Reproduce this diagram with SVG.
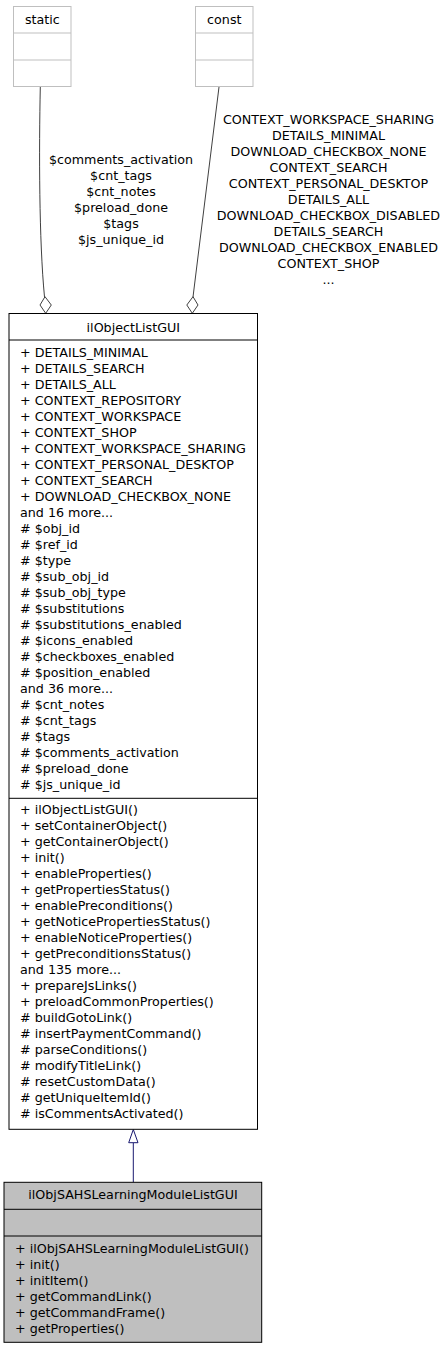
<svg xmlns="http://www.w3.org/2000/svg" width="447" height="1349" viewBox="0 0 447 1349">
<style>
text{font-family:"DejaVu Sans",sans-serif;font-size:12.7px;fill:#000}
.c{text-anchor:middle}
.gbox{fill:#fff;stroke:#bfbfbf;stroke-width:1}
.box{fill:#fff;stroke:#000;stroke-width:1}
.sub{fill:#bfbfbf;stroke:#000;stroke-width:1}
.agg{fill:none;stroke:#404040;stroke-width:1}
.dia{fill:#fff;stroke:#404040;stroke-width:1}
.inh{fill:none;stroke:#191970;stroke-width:1}
.tri{fill:#fff;stroke:#191970;stroke-width:1}
</style>
<rect width="447" height="1349" fill="#fff"/>
<g id="connectors">
<path class="agg" d="M40.3,87 C39,150 39,240 44.5,297"/>
<polygon class="dia" points="45.7,313.3 40,305 45,296.7 51.3,305"/>
<path class="agg" d="M219,87 L193,297"/>
<polygon class="dia" points="192.3,313.3 186.8,305 193,296.7 198,305"/>
<g class="c">
<text x="121" y="163.5">$comments_activation</text>
<text x="121" y="179.5">$cnt_tags</text>
<text x="121" y="195.5">$cnt_notes</text>
<text x="121" y="211.5">$preload_done</text>
<text x="121" y="227.5">$tags</text>
<text x="121" y="243.5">$js_unique_id</text>
<text x="328.5" y="123.5">CONTEXT_WORKSPACE_SHARING</text>
<text x="328.5" y="139.5">DETAILS_MINIMAL</text>
<text x="328.5" y="155.5">DOWNLOAD_CHECKBOX_NONE</text>
<text x="328.5" y="171.5">CONTEXT_SEARCH</text>
<text x="328.5" y="187.5">CONTEXT_PERSONAL_DESKTOP</text>
<text x="328.5" y="203.5">DETAILS_ALL</text>
<text x="328.5" y="219.5">DOWNLOAD_CHECKBOX_DISABLED</text>
<text x="328.5" y="235.5">DETAILS_SEARCH</text>
<text x="328.5" y="251.5">DOWNLOAD_CHECKBOX_ENABLED</text>
<text x="328.5" y="267.5">CONTEXT_SHOP</text>
<text x="328.5" y="283.5">...</text>
</g>
<path class="inh" d="M133.3,1143 L133.3,1182.3"/>
<polygon class="tri" points="133.3,1129.5 128.7,1142.7 138,1142.7"/>
</g>
<g id="node-static">
<rect class="gbox" x="13.5" y="6.5" width="57.5" height="80"/>
<line class="gbox" x1="13.5" y1="33" x2="71" y2="33"/>
<line class="gbox" x1="13.5" y1="60" x2="71" y2="60"/>
<text class="c" x="42.3" y="24">static</text>
</g>
<g id="node-const">
<rect class="gbox" x="195.5" y="6.5" width="57.5" height="80"/>
<line class="gbox" x1="195.5" y1="33" x2="253" y2="33"/>
<line class="gbox" x1="195.5" y1="60" x2="253" y2="60"/>
<text class="c" x="224.3" y="24">const</text>
</g>
<g id="node-ilObjectListGUI">
<rect class="box" x="9" y="313.5" width="248.5" height="815.8"/>
<line class="box" x1="9" y1="340" x2="257.5" y2="340"/>
<line class="box" x1="9" y1="798.3" x2="257.5" y2="798.3"/>
<text class="c" x="133.3" y="331.5">ilObjectListGUI</text>
<text x="20" y="356.5">+ DETAILS_MINIMAL</text>
<text x="20" y="372.5">+ DETAILS_SEARCH</text>
<text x="20" y="388.5">+ DETAILS_ALL</text>
<text x="20" y="404.5">+ CONTEXT_REPOSITORY</text>
<text x="20" y="420.5">+ CONTEXT_WORKSPACE</text>
<text x="20" y="436.5">+ CONTEXT_SHOP</text>
<text x="20" y="452.5">+ CONTEXT_WORKSPACE_SHARING</text>
<text x="20" y="468.5">+ CONTEXT_PERSONAL_DESKTOP</text>
<text x="20" y="484.5">+ CONTEXT_SEARCH</text>
<text x="20" y="500.5">+ DOWNLOAD_CHECKBOX_NONE</text>
<text x="20" y="516.5">and 16 more...</text>
<text x="20" y="532.5"># $obj_id</text>
<text x="20" y="548.5"># $ref_id</text>
<text x="20" y="564.5"># $type</text>
<text x="20" y="580.5"># $sub_obj_id</text>
<text x="20" y="596.5"># $sub_obj_type</text>
<text x="20" y="612.5"># $substitutions</text>
<text x="20" y="628.5"># $substitutions_enabled</text>
<text x="20" y="644.5"># $icons_enabled</text>
<text x="20" y="660.5"># $checkboxes_enabled</text>
<text x="20" y="676.5"># $position_enabled</text>
<text x="20" y="692.5">and 36 more...</text>
<text x="20" y="708.5"># $cnt_notes</text>
<text x="20" y="724.5"># $cnt_tags</text>
<text x="20" y="740.5"># $tags</text>
<text x="20" y="756.5"># $comments_activation</text>
<text x="20" y="772.5"># $preload_done</text>
<text x="20" y="788.5"># $js_unique_id</text>
<text x="20" y="814.3">+ ilObjectListGUI()</text>
<text x="20" y="830.3">+ setContainerObject()</text>
<text x="20" y="846.3">+ getContainerObject()</text>
<text x="20" y="862.3">+ init()</text>
<text x="20" y="878.3">+ enableProperties()</text>
<text x="20" y="894.3">+ getPropertiesStatus()</text>
<text x="20" y="910.3">+ enablePreconditions()</text>
<text x="20" y="926.3">+ getNoticePropertiesStatus()</text>
<text x="20" y="942.3">+ enableNoticeProperties()</text>
<text x="20" y="958.3">+ getPreconditionsStatus()</text>
<text x="20" y="974.3">and 135 more...</text>
<text x="20" y="990.3">+ prepareJsLinks()</text>
<text x="20" y="1006.3">+ preloadCommonProperties()</text>
<text x="20" y="1022.3"># buildGotoLink()</text>
<text x="20" y="1038.3"># insertPaymentCommand()</text>
<text x="20" y="1054.3"># parseConditions()</text>
<text x="20" y="1070.3"># modifyTitleLink()</text>
<text x="20" y="1086.3"># resetCustomData()</text>
<text x="20" y="1102.3"># getUniqueItemId()</text>
<text x="20" y="1118.3"># isCommentsActivated()</text>
</g>
<g id="node-ilObjSAHSLearningModuleListGUI">
<rect class="sub" x="4" y="1182.3" width="257.7" height="160"/>
<line class="sub" x1="4" y1="1209.3" x2="261.7" y2="1209.3"/>
<line class="sub" x1="4" y1="1236" x2="261.7" y2="1236"/>
<text class="c" x="133" y="1199.3">ilObjSAHSLearningModuleListGUI</text>
<text x="15" y="1252.5">+ ilObjSAHSLearningModuleListGUI()</text>
<text x="15" y="1268.5">+ init()</text>
<text x="15" y="1284.5">+ initItem()</text>
<text x="15" y="1300.5">+ getCommandLink()</text>
<text x="15" y="1316.5">+ getCommandFrame()</text>
<text x="15" y="1332.5">+ getProperties()</text>
</g>
</svg>
